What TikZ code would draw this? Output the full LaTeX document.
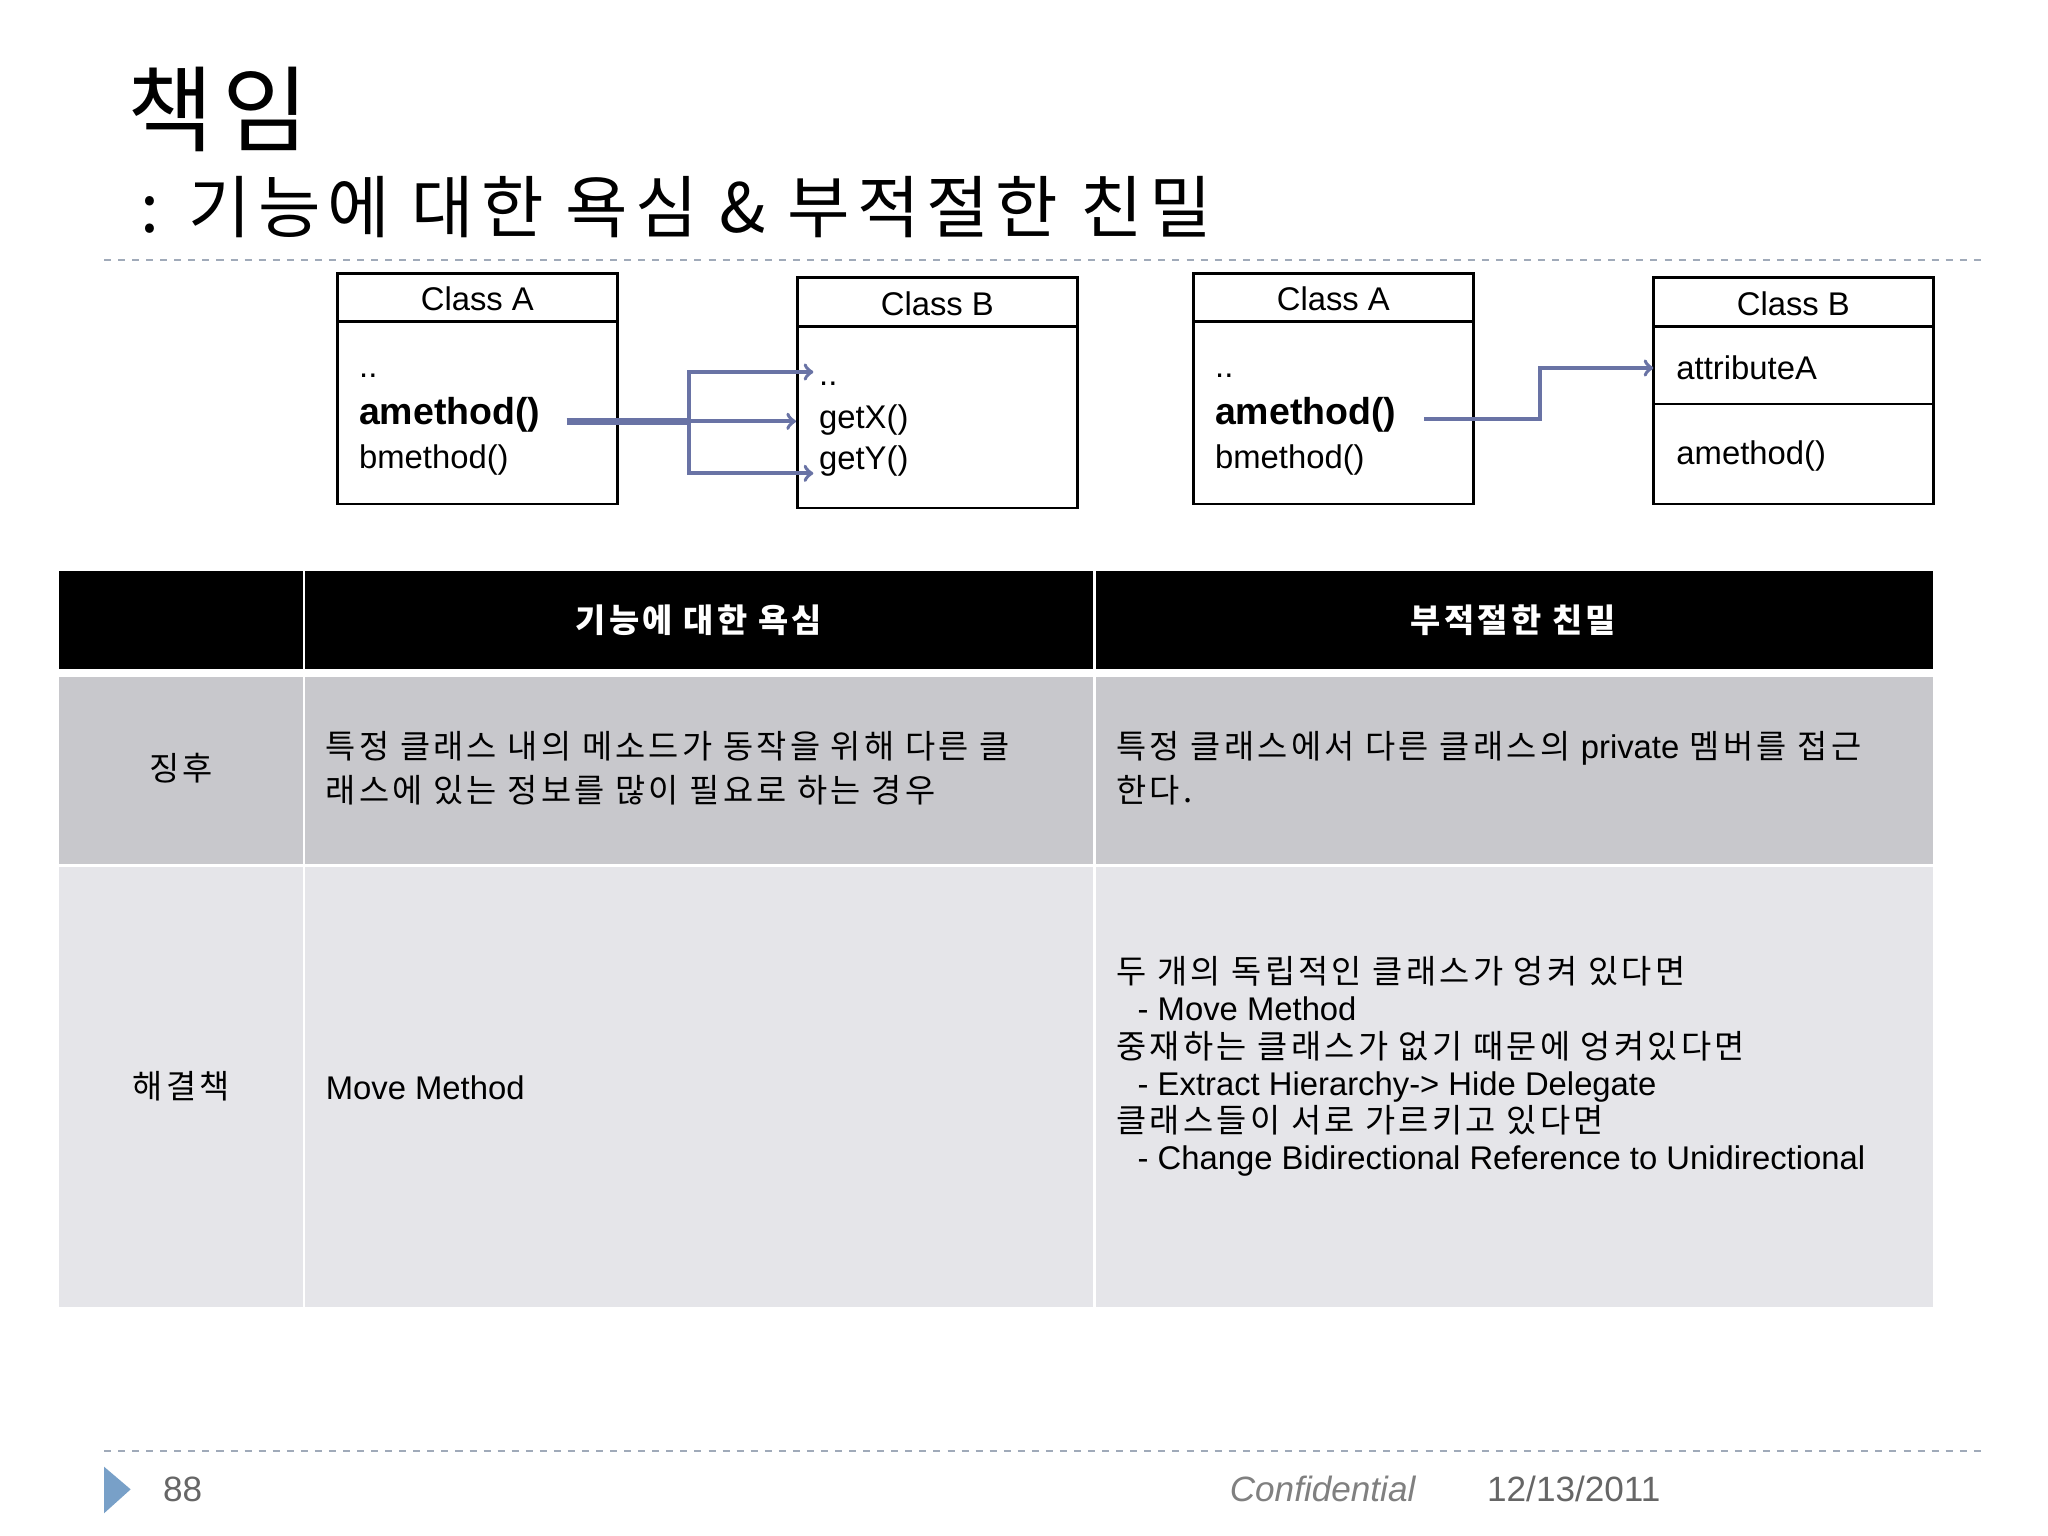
\documentclass[tikz,border=0pt]{standalone}
\usepackage{fontspec}
\setmainfont{Liberation Sans}
\newfontfamily\cjk[LetterSpace=10]{Noto Sans CJK KR}
\definecolor{arr}{RGB}{105,115,165}
\definecolor{dashcol}{RGB}{160,170,185}
\definecolor{rowA}{RGB}{200,200,204}
\definecolor{rowB}{RGB}{229,229,233}
\definecolor{tri}{RGB}{120,160,200}
\begin{document}
\begin{tikzpicture}[x=0.2mm,y=-0.2mm,
  cls/.style={draw,line width=1.2pt},
  lbl/.style={anchor=west,font=\fontsize{14}{16}\selectfont,inner sep=0},
  hd/.style={anchor=center,font=\fontsize{14}{16}\selectfont,inner sep=0},
  con/.style={draw=arr,line width=1.6pt},
  cell/.style={anchor=west,font=\cjk\fontsize{14}{19}\selectfont,inner sep=0,align=left}]
\useasboundingbox (0,0) rectangle (1536,1152);
\fill[white] (0,0) rectangle (1536,1152);
\node[anchor=west,inner sep=0,font=\cjk\fontsize{40}{44}\selectfont] (t1) at (95,82) {책임};
\node[anchor=west,inner sep=0,font=\cjk\fontsize{29}{33}\selectfont] (t2) at (105,155) {: 기능에 대한 욕심 \& 부적절한 친밀};
\draw[dashcol,dashed,line width=1pt] (78,195) -- (1490,195);
\draw[dashcol,dashed,line width=1pt] (78,1088) -- (1490,1088);
% diagram 1
\draw[cls] (253,205) rectangle (463,378); \draw[cls] (253,241) -- (463,241);
\node[hd] (a1) at (358,224) {Class A};
\node[lbl] at (269,282) {..};
\node[lbl,font=\bfseries\fontsize{16}{18}\selectfont] (am1) at (269,311) {amethod()};
\node[lbl] at (269,345) {bmethod()};
\draw[cls] (598,208) rectangle (808,381); \draw[cls] (598,245) -- (808,245);
\node[hd] (b1) at (703,228) {Class B};
\node[lbl] (dd) at (614,288) {..};
\node[lbl] (gx) at (614,315) {getX()};
\node[lbl] (gy) at (614,346) {getY()};
\coordinate (s1) at (425,316);
\coordinate (j1) at (517,316);
\draw[con,line width=3pt] (s1) -- (j1);
\draw[con,->] (j1) |- (610,279);
\draw[con,->] (j1) -- (597,316);
\draw[con,->] (j1) |- (610,355);
% diagram 2
\draw[cls] (895,205) rectangle (1105,378); \draw[cls] (895,241) -- (1105,241);
\node[hd] (a2) at (1000,224) {Class A};
\node[lbl] at (911,282) {..};
\node[lbl,font=\bfseries\fontsize{16}{18}\selectfont] (am2) at (911,311) {amethod()};
\node[lbl] at (911,345) {bmethod()};
\draw[cls] (1240,208) rectangle (1450,378); \draw[cls] (1240,245) -- (1450,245); \draw[cls] (1240,303) -- (1450,303);
\node[hd] (b2) at (1345,228) {Class B};
\node[lbl] (at2) at (1257,276) {attributeA};
\node[lbl] at (1257,342) {amethod()};
\coordinate (s2) at (1068,314);
\coordinate (j2) at (1155,314);
\draw[con,->] (s2) -- (j2) |- (1240,276);
% table
\fill[black] (44,428) rectangle (1450,502);
\fill[rowA] (44,508) rectangle (1450,648);
\fill[rowB] (44,650) rectangle (1450,980);
\draw[white,line width=1.2pt] (228,428) -- (228,980) (821,428) -- (821,980);
\node[hd,white,font=\cjk\bfseries\fontsize{14}{16}\selectfont] at (524,465) {기능에 대한 욕심};
\node[hd,white,font=\cjk\bfseries\fontsize{14}{16}\selectfont] at (1135,465) {부적절한 친밀};
\node[hd,font=\cjk\fontsize{14}{16}\selectfont] at (136,576) {징후};
\node[hd,font=\cjk\fontsize{14}{16}\selectfont] at (136,815) {해결책};
\node[cell] at (244,576) {특정 클래스 내의 메소드가 동작을 위해 다른 클\\래스에 있는 정보를 많이 필요로 하는 경우};
\node[cell] at (837,576) {특정 클래스에서 다른 클래스의 {\fontspec{Liberation Sans}private} 멤버를 접근\\한다.};
\node[lbl] at (244,816) {Move Method};
\node[cell,font=\cjk\fontsize{14}{15.9}\selectfont] at (837,800) {두 개의 독립적인 클래스가 엉켜 있다면\\
\ \ {\fontspec{Liberation Sans}- Move Method}\\
중재하는 클래스가 없기 때문에 엉켜있다면\\
\ \ {\fontspec{Liberation Sans}- Extract Hierarchy-> Hide Delegate}\\
클래스들이 서로 가르키고 있다면\\
\ \ {\fontspec{Liberation Sans}- Change Bidirectional Reference to Unidirectional}};
% footer
\fill[tri] (78,1100) -- (98,1117) -- (78,1135) -- cycle;
\node[lbl,gray!80!black,font=\fontsize{15}{17}\selectfont] at (122,1117) {88};
\node[lbl,gray,font=\itshape\fontsize{15}{17}\selectfont] at (922,1117) {Confidential};
\node[lbl,gray!80!black,font=\fontsize{15}{17}\selectfont] at (1115,1117) {12/13/2011};
\end{tikzpicture}
\end{document}
